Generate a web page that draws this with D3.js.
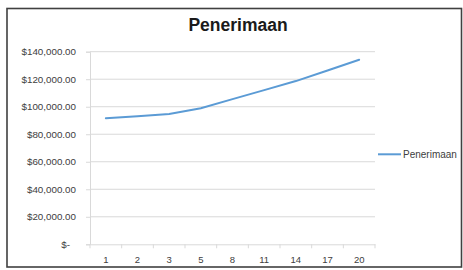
<!DOCTYPE html>
<html><head><meta charset="utf-8">
<script src="https://cdn.jsdelivr.net/npm/d3@7"></script>
<style>body{margin:0;background:#fff}svg{display:block}</style>
</head><body><svg id="c" width="463" height="270"></svg>
<script>
const categories = ["1","2","3","5","8","11","14","17","20"];
const values = [91660, 93120, 94800, 98950, 105500, 112070, 118640, 126370, 134170];
const yTicks = [0, 20000, 40000, 60000, 80000, 100000, 120000, 140000];
const seriesName = "Penerimaan";
const title = "Penerimaan";

const svg = d3.select("#c");
const font = "'Liberation Sans', Arial, sans-serif";
svg.append("rect").attr("x",7).attr("y",8.5).attr("width",454.5).attr("height",258.5)
  .attr("fill","#fff").attr("stroke","#404040").attr("stroke-width",1.6);

const x = d3.scaleBand().domain(categories).range([90,375]);
const y = d3.scaleLinear().domain([0,140000]).range([244.3,51.7]);

// gridlines
svg.append("g").selectAll("line").data(yTicks.filter(d=>d>0)).join("line")
  .attr("x1",90).attr("x2",375).attr("y1",d=>y(d)).attr("y2",d=>y(d))
  .attr("stroke","#d9d9d9").attr("stroke-width",1);

// y axis
const fmt = d => d===0 ? "$-" : "$" + d3.format(",.2f")(d);
const ya = svg.append("g").attr("transform","translate(90,0)")
  .call(d3.axisLeft(y).tickValues(yTicks).tickFormat(fmt).tickSize(4).tickPadding(10));
ya.select(".domain").attr("stroke","#d9d9d9");
ya.selectAll(".tick line").attr("stroke","#d9d9d9");
ya.selectAll(".tick text").attr("font-family",font).attr("font-size","9.8px").attr("fill","#404040")
  .attr("dx", d=> d===0 ? -6 : 0);

// x axis
const xa = svg.append("g").attr("transform","translate(0,244.3)")
  .call(d3.axisBottom(x).tickSize(0).tickPadding(12));
xa.select(".domain").attr("stroke","#d9d9d9");
xa.selectAll(".tick text").attr("font-family",font).attr("font-size","9.5px").attr("fill","#404040");
const edges = categories.map(c=>x(c)).concat([x.range()[1]]);
xa.append("g").selectAll("line").data(edges).join("line")
  .attr("x1",d=>d).attr("x2",d=>d).attr("y1",0).attr("y2",4).attr("stroke","#d9d9d9");

// line
const line = d3.line().x((d,i)=>x(categories[i])+x.bandwidth()/2).y(d=>y(d));
svg.append("path").datum(values).attr("d",line).attr("fill","none")
  .attr("stroke","#5b9bd5").attr("stroke-width",2).attr("stroke-linecap","round");

// title
svg.append("text").attr("x",238).attr("y",31).attr("text-anchor","middle")
  .attr("font-family",font).attr("font-weight","bold").attr("font-size","17.5px").attr("fill","#1a1a1a").text(title);

// legend
svg.append("line").attr("x1",378).attr("x2",401).attr("y1",154.3).attr("y2",154.3)
  .attr("stroke","#5b9bd5").attr("stroke-width",2);
svg.append("text").attr("x",403).attr("y",157.8).attr("font-family",font).attr("font-size","10px")
  .attr("fill","#404040").text(seriesName);
</script></body></html>
